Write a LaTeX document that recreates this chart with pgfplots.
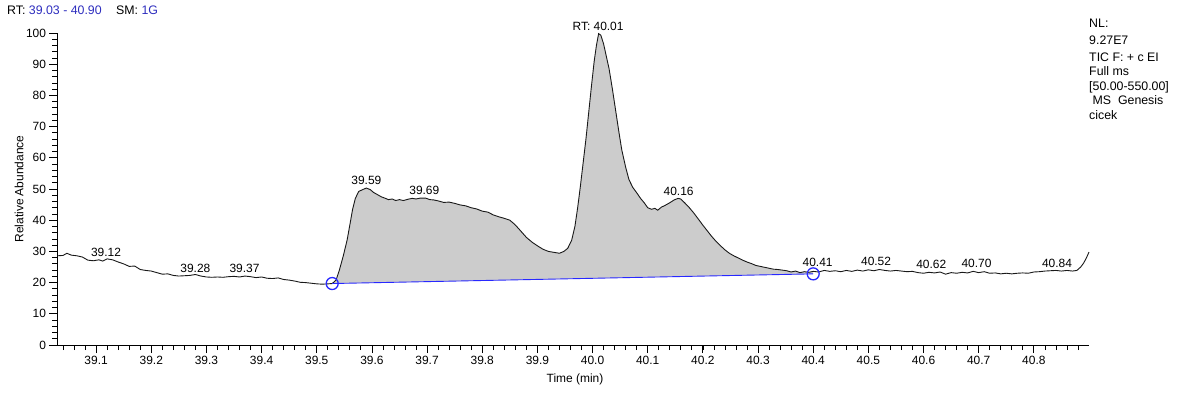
\documentclass[border=0pt]{standalone}
\usepackage{fontspec}
\setmainfont{Liberation Sans}
\usepackage{pgfplots}
\usepackage{pgfplotstable}
\pgfplotsset{compat=1.18}

\definecolor{rtblue}{RGB}{45,45,190}
\definecolor{basefit}{RGB}{40,40,255}
\definecolor{peakfill}{RGB}{204,204,204}
\definecolor{trace}{RGB}{25,25,25}

% TIC trace: retention time (min) vs relative abundance (%), in three stretches
\pgfplotstableread{
t a
39.030 28.6
39.040 28.7
39.047 29.4
39.055 28.8
39.065 28.6
39.075 28.2
39.085 27.2
39.095 27.0
39.105 27.3
39.112 26.9
39.120 27.6
39.130 27.3
39.140 26.6
39.150 26.0
39.160 25.2
39.170 25.3
39.180 24.2
39.190 23.9
39.200 23.7
39.210 23.2
39.220 22.7
39.230 22.8
39.240 22.3
39.250 22.1
39.260 22.2
39.270 22.3
39.280 22.6
39.290 22.1
39.300 21.8
39.310 21.7
39.320 21.8
39.330 21.7
39.340 21.9
39.350 22.0
39.360 21.8
39.370 22.1
39.380 21.9
39.390 21.6
39.400 21.8
39.410 21.4
39.420 21.3
39.430 21.5
39.440 21.0
39.450 20.8
39.460 20.5
39.470 20.1
39.480 20.0
39.490 19.8
39.500 19.6
39.510 19.5
39.520 19.6
}\tracepre

\pgfplotstableread{
t a
39.528 19.7
39.535 20.8
39.541 24.0
39.548 28.5
39.555 33.6
39.560 38.5
39.565 43.5
39.570 47.0
39.576 49.2
39.583 49.8
39.590 50.3
39.597 49.8
39.603 48.9
39.610 48.2
39.617 47.5
39.623 47.1
39.630 46.6
39.637 46.8
39.643 46.3
39.650 46.6
39.657 46.3
39.665 46.7
39.673 47.0
39.680 46.8
39.688 47.1
39.697 47.1
39.705 46.6
39.712 46.5
39.720 46.2
39.730 45.7
39.740 45.8
39.750 45.4
39.760 44.9
39.770 44.6
39.780 44.0
39.790 43.6
39.800 42.9
39.810 42.6
39.820 41.7
39.830 41.1
39.840 40.6
39.850 40.0
39.858 38.8
39.865 37.5
39.873 35.9
39.880 34.5
39.890 33.0
39.900 31.8
39.910 30.7
39.920 30.0
39.930 29.7
39.940 29.4
39.948 30.0
39.955 31.0
39.962 33.5
39.968 38.0
39.973 44.0
39.978 51.0
39.983 58.5
39.988 66.0
39.993 74.5
39.998 83.0
40.003 91.0
40.007 96.0
40.011 99.8
40.015 99.3
40.020 96.5
40.025 92.5
40.030 88.5
40.036 82.0
40.042 75.0
40.048 68.0
40.053 62.5
40.060 57.0
40.066 53.0
40.073 50.5
40.080 48.8
40.087 47.0
40.094 45.5
40.100 44.0
40.107 43.5
40.113 43.8
40.118 43.2
40.125 44.2
40.132 44.8
40.140 45.6
40.148 46.5
40.155 47.0
40.160 46.8
40.168 45.4
40.176 43.9
40.184 42.2
40.192 40.3
40.200 38.4
40.208 36.6
40.216 34.8
40.224 33.2
40.232 31.8
40.240 30.5
40.248 29.4
40.256 28.6
40.264 27.9
40.272 27.2
40.280 26.6
40.288 26.1
40.296 25.5
40.304 25.2
40.312 24.9
40.320 24.6
40.328 24.3
40.336 24.2
40.344 24.0
40.352 23.8
40.360 23.4
40.368 23.7
40.376 23.2
40.384 23.5
40.392 23.3
40.400 23.6
}\tracepeak

\pgfplotstableread{
t a
40.410 23.4
40.420 23.9
40.430 23.6
40.440 23.8
40.450 23.5
40.460 23.9
40.470 23.6
40.480 24.0
40.490 23.7
40.500 24.1
40.510 23.8
40.520 24.2
40.530 23.9
40.540 23.7
40.550 23.9
40.560 23.7
40.570 23.5
40.580 23.6
40.590 23.2
40.600 23.0
40.610 23.3
40.620 23.1
40.630 23.4
40.640 22.7
40.650 23.2
40.660 23.0
40.670 23.3
40.680 23.1
40.690 23.6
40.700 23.2
40.710 23.5
40.720 23.0
40.730 23.1
40.740 22.8
40.750 23.0
40.760 22.8
40.770 23.0
40.780 23.1
40.790 23.0
40.800 23.4
40.810 23.5
40.820 23.7
40.830 23.8
40.840 23.9
40.850 23.7
40.860 23.9
40.870 23.7
40.878 23.9
40.885 25.0
40.890 26.2
40.895 27.8
40.900 29.8
}\tracepost

% integration baseline, right end first
\pgfplotstableread{
t a
40.400 22.8
39.528 19.7
}\intbase

% full trace
\pgfplotstablevertcat{\tictrace}{\tracepre}
\pgfplotstablevertcat{\tictrace}{\tracepeak}
\pgfplotstablevertcat{\tictrace}{\tracepost}
% integrated area: peak stretch closed along the baseline
\pgfplotstablevertcat{\peakarea}{\tracepeak}
\pgfplotstablevertcat{\peakarea}{\intbase}

\newcommand{\lbl}{\fontsize{12}{14}\selectfont}
\newcommand{\hdr}{\fontsize{12.4}{14}\selectfont}

\begin{document}
\begin{tikzpicture}
\useasboundingbox (0,0) rectangle (1180bp,-394bp);
\begin{axis}[
  at={(57.5bp,-345bp)}, anchor=south west,
  scale only axis, width=1031.5bp, height=312bp,
  xmin=39.03, xmax=40.90, ymin=0, ymax=100,
  axis lines=left, axis line style={-, line width=0.8bp, black},
  tick align=outside,
  major tick length=8bp, minor tick length=5bp,
  tick style={line width=0.8bp, black},
  xtick={39.1,39.2,39.3,39.4,39.5,39.6,39.7,39.8,39.9,40.0,40.1,40.2,40.3,40.4,40.5,40.6,40.7,40.8},
  minor xtick={39.04,39.06,...,40.89},
  ytick={0,10,...,100},
  minor ytick={2,4,...,98},
  /pgf/number format/assume math mode=true,
  xticklabel style={/pgf/number format/.cd, fixed, fixed zerofill, precision=1, 1000 sep={}},
  yticklabel style={/pgf/number format/.cd, fixed, precision=0},
  tick label style={font=\lbl},
  xlabel={Time (min)},
  ylabel={Relative Abundance},
  xlabel style={font=\lbl, at={(axis description cs:0.5017,-0.109)}, anchor=center},
  ylabel style={font=\lbl, at={(axis description cs:-0.0373,0.5)}, anchor=center},
  clip=false,
]
\addplot[fill=peakfill, draw=none] table[x=t, y=a] {\peakarea};
\addplot[trace, line width=0.9bp] table[x=t, y=a] {\tictrace};
\addplot[basefit, line width=0.9bp] table[x=t, y=a] {\intbase};
\addplot[basefit, only marks, mark=o, mark size=6bp, mark options={line width=1.3bp}] table[x=t, y=a] {\intbase};

% peak apex labels
\begin{scope}[every node/.style={font=\lbl, inner sep=0pt, anchor=center}]
\node at (axis cs:39.118,29.6) {39.12};
\node at (axis cs:39.280,24.5) {39.28};
\node at (axis cs:39.369,24.4) {39.37};
\node at (axis cs:39.590,52.9) {39.59};
\node at (axis cs:39.695,49.7) {39.69};
\node at (axis cs:40.010,102.2) {RT: 40.01};
\node at (axis cs:40.156,49.1) {40.16};
\node at (axis cs:40.408,26.6) {40.41};
\node at (axis cs:40.514,26.7) {40.52};
\node at (axis cs:40.614,25.9) {40.62};
\node at (axis cs:40.696,26.1) {40.70};
\node at (axis cs:40.842,26.3) {40.84};
\end{scope}
\end{axis}

% header line
\node[font=\hdr, anchor=base west, inner sep=0pt] at (7bp,-14bp) {RT:\ \textcolor{rtblue}{39.03 - 40.90}};
\node[font=\hdr, anchor=base west, inner sep=0pt] at (116bp,-14bp) {SM:\ \textcolor{rtblue}{1G}};

% scan information
\begin{scope}[every node/.style={font=\hdr, anchor=base west, inner sep=0pt}]
\node at (1089bp,-27bp) {NL:};
\node at (1089bp,-44bp) {9.27E7};
\node at (1089bp,-61bp) {TIC F: + c EI};
\node at (1089bp,-75.5bp) {Full ms};
\node at (1089bp,-90bp) {[50.00-550.00]};
\node at (1089bp,-104.5bp) {\ MS\ \ Genesis};
\node at (1089bp,-119bp) {cicek};
\end{scope}
\end{tikzpicture}
\end{document}
